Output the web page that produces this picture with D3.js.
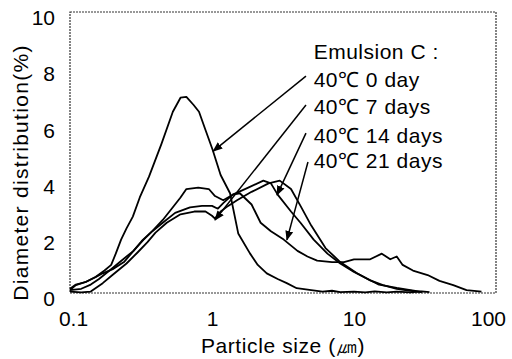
<!DOCTYPE html>
<html>
<head>
<meta charset="utf-8">
<script src="https://cdn.jsdelivr.net/npm/d3@7"></script>
<style>
body { margin: 0; background: #fff; }
text { font-family: "Liberation Sans", Arial, sans-serif; fill: #000; }
</style>
</head>
<body>
<svg width="512" height="359"></svg>
<script>
// particle size (um) and diameter distribution (%)
var day0 = [[0.1,0.1],[0.11,0.28],[0.13,0.4],[0.152,0.58],[0.175,0.8],[0.195,1.0],[0.21,1.4],[0.229,1.9],[0.25,2.3],[0.277,2.72],[0.31,3.4],[0.36,4.14],[0.44,5.3],[0.53,6.45],[0.6,6.95],[0.66,6.98],[0.74,6.7],[0.81,6.45],[0.9,5.8],[1.01,5.1],[1.15,4.2],[1.34,3.55],[1.53,2.12],[1.85,1.41],[2.1,1.0],[2.43,0.7],[2.9,0.5],[3.36,0.35],[3.95,0.17],[5,0.1],[6,0.05],[7,0.08],[8,0.03],[10,0.05],[12,0.02],[14,0.06],[17,0.02],[20,0.05],[25,0.02],[30,0.06],[34,0.03]];
var day7 = [[0.1,0.05],[0.12,0.02],[0.14,0.05],[0.17,0.35],[0.2,0.65],[0.25,1.05],[0.3,1.45],[0.35,1.8],[0.4,2.15],[0.48,2.5],[0.6,2.8],[0.75,2.9],[0.9,2.9],[1.0,2.75],[1.05,2.65],[1.15,2.9],[1.3,3.1],[1.5,3.3],[1.9,3.6],[2.5,3.9],[3.0,4.0],[3.6,3.7],[4.2,3.1],[5,2.4],[6.3,1.6],[8,1.1],[10.5,0.7],[13,0.45],[16,0.28],[20,0.15],[25,0.08],[30,0.03]];
var day14 = [[0.1,0.1],[0.12,0.15],[0.14,0.3],[0.16,0.5],[0.19,0.8],[0.23,1.15],[0.28,1.5],[0.33,1.9],[0.38,2.2],[0.45,2.5],[0.55,2.85],[0.7,3.05],[0.85,3.1],[1.0,3.1],[1.1,3.0],[1.2,3.2],[1.4,3.5],[1.8,3.75],[2.3,4.0],[2.6,3.9],[2.9,3.5],[3.6,2.9],[4.2,2.5],[5.2,1.9],[6.5,1.4],[8,1.05],[10,0.75],[12.5,0.5],[15,0.3],[20,0.18],[25,0.1],[30,0.04]];
var day21 = [[0.1,0.15],[0.11,0.3],[0.13,0.4],[0.15,0.55],[0.17,0.7],[0.2,0.85],[0.24,1.1],[0.28,1.5],[0.32,1.85],[0.38,2.2],[0.45,2.6],[0.52,3.0],[0.6,3.4],[0.66,3.7],[0.8,3.75],[0.95,3.7],[1.05,3.45],[1.2,3.3],[1.4,3.5],[1.57,3.55],[1.9,3.15],[2.2,2.5],[2.6,2.2],[3.2,1.9],[4,1.5],[4.7,1.3],[5.5,1.15],[7,1.1],[8.5,1.1],[10,1.2],[13,1.2],[15.7,1.4],[18,1.2],[20,1.3],[22,1.0],[26,0.8],[33,0.64],[40,0.43],[50,0.28],[62,0.1],[79,0.05]];

var series = [day0, day7, day14, day21];

var xTicks = [0.1, 1, 10, 100];
var yTicks = [0, 2, 4, 6, 8, 10];

var legendTitle = 'Emulsion C :';
var legendLabels = ['40\u2103 0 day', '40\u2103 7 days', '40\u2103 14 days', '40\u2103 21 days'];
// arrow start and tip for each label, in data units (um, %)
var arrowFrom = [[4.59,7.72],[4.59,6.69],[4.59,5.69],[4.74,4.66]];
var arrowTo = [[1.02,5.05],[1.05,2.6],[2.87,3.49],[3.37,1.89]];
// legend baselines in data units
var legendX = 5.2;
var legendY = [8.33, 7.33, 6.37, 5.34, 4.45];

var svg = d3.select('svg');
var plot = {l: 70, r: 496, t: 12, b: 293};

var x = d3.scaleLog().domain([0.1, 100]).range([plot.l, plot.r]);
var y = d3.scaleLinear().domain([0, 10]).range([plot.b, plot.t]);

svg.append('defs').append('marker')
    .attr('id', 'head')
    .attr('viewBox', '0 0 10 10')
    .attr('refX', 9).attr('refY', 5)
    .attr('markerWidth', 10).attr('markerHeight', 10)
    .attr('markerUnits', 'userSpaceOnUse')
    .attr('orient', 'auto')
    .append('path').attr('d', 'M0,1 L10,5 L0,9 Z').attr('fill', '#000');

// frame
svg.append('rect')
    .attr('x', plot.l).attr('y', plot.t)
    .attr('width', plot.r - plot.l).attr('height', plot.b - plot.t)
    .attr('fill', 'none').attr('stroke', '#333').attr('stroke-width', 1.2)
    .attr('stroke-dasharray', '2,1');

// axes (labels only)
var yAxis = svg.append('g')
    .attr('transform', 'translate(' + (plot.l - 15) + ',0)')
    .call(d3.axisLeft(y).tickValues(yTicks).tickSize(0).tickPadding(0));
yAxis.select('.domain').remove();
yAxis.selectAll('text').attr('font-size', 21).attr('dy', '0.6em')
    .style('font-family', '"Liberation Sans", Arial, sans-serif');

var xAxis = svg.append('g')
    .attr('transform', 'translate(0,' + (plot.b + 18) + ')')
    .call(d3.axisBottom(x).tickValues(xTicks).tickSize(0).tickPadding(0).tickFormat(function(d) { return d; }));
xAxis.select('.domain').remove();
xAxis.selectAll('text').attr('font-size', 21).attr('dy', '0.72em')
    .style('font-family', '"Liberation Sans", Arial, sans-serif')
    .attr('dx', function(d) { return d == 100 ? -8 : (d == 0.1 ? 3 : 0); });

// curves
var line = d3.line()
    .x(function(d) { return x(d[0]); })
    .y(function(d) { return y(d[1]); });

svg.append('g').selectAll('path')
    .data(series)
    .enter().append('path')
    .attr('d', line)
    .attr('fill', 'none')
    .attr('stroke', '#000')
    .attr('stroke-width', 1.8)
    .attr('stroke-linejoin', 'round');

// arrows
svg.append('g').selectAll('line')
    .data(arrowFrom)
    .enter().append('line')
    .attr('x1', function(d) { return x(d[0]); })
    .attr('y1', function(d) { return y(d[1]); })
    .attr('x2', function(d, i) { return x(arrowTo[i][0]); })
    .attr('y2', function(d, i) { return y(arrowTo[i][1]); })
    .attr('stroke', '#000').attr('stroke-width', 1.5)
    .attr('marker-end', 'url(#head)');

// legend text
svg.append('g').selectAll('text')
    .data([legendTitle].concat(legendLabels))
    .enter().append('text')
    .attr('x', x(legendX))
    .attr('y', function(d, i) { return y(legendY[i]); })
    .attr('font-size', 21)
    .style('letter-spacing', '0.5px')
    .text(function(d) { return d; });

// axis titles
svg.append('text')
    .attr('x', (plot.l + plot.r) / 2)
    .attr('y', 353)
    .attr('text-anchor', 'middle')
    .attr('font-size', 21)
    .style('letter-spacing', '0.6px')
    .text('Particle size (\u339B)');

svg.append('text')
    .attr('transform', 'translate(28,' + ((plot.t + plot.b) / 2 + 20) + ') rotate(-90)')
    .attr('text-anchor', 'middle')
    .attr('font-size', 21)
    .style('letter-spacing', '1.3px')
    .text('Diameter distribution(%)');
</script>
</body>
</html>
